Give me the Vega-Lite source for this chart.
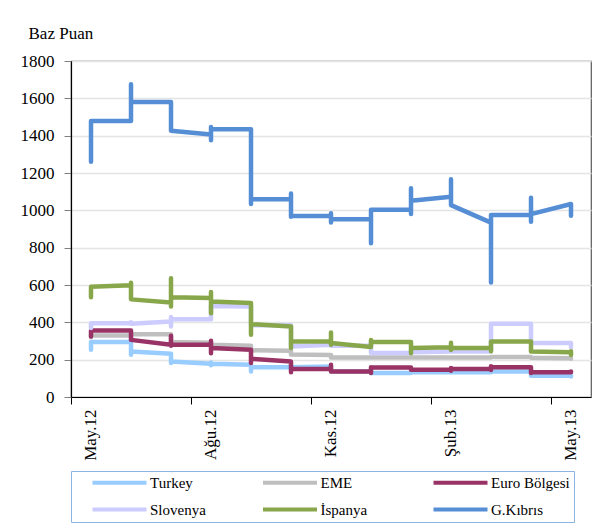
{
"$schema": "https://vega.github.io/schema/vega-lite/v6.json",
"width": 520, "height": 336,
"autosize": {"type": "none"},
"padding": {"left": 71, "top": 61, "right": 9, "bottom": 133},
"config": {
  "view": {"stroke": "#595959", "strokeWidth": 1.2},
  "font": "Liberation Serif"
},
"data": {"values": [
{"s":"Turkey","m":"May.12","i":1,"v":253},{"s":"Turkey","m":"May.12","i":2,"v":289},{"s":"Turkey","m":"May.12","i":3,"v":294},
{"s":"Turkey","m":"Haz.12","i":4,"v":294},{"s":"Turkey","m":"Haz.12","i":5,"v":226},{"s":"Turkey","m":"Haz.12","i":6,"v":244},
{"s":"Turkey","m":"Tem.12","i":7,"v":232},{"s":"Turkey","m":"Tem.12","i":8,"v":182},{"s":"Turkey","m":"Tem.12","i":9,"v":190},
{"s":"Turkey","m":"Ağu.12","i":10,"v":178},{"s":"Turkey","m":"Ağu.12","i":11,"v":185},{"s":"Turkey","m":"Ağu.12","i":12,"v":170},{"s":"Turkey","m":"Ağu.12","i":13,"v":178},
{"s":"Turkey","m":"Eyl.12","i":14,"v":173},{"s":"Turkey","m":"Eyl.12","i":15,"v":137},{"s":"Turkey","m":"Eyl.12","i":16,"v":160},
{"s":"Turkey","m":"Eki.12","i":17,"v":160},{"s":"Turkey","m":"Eki.12","i":18,"v":150},{"s":"Turkey","m":"Eki.12","i":19,"v":160},
{"s":"Turkey","m":"Kas.12","i":20,"v":164},{"s":"Turkey","m":"Kas.12","i":21,"v":137},
{"s":"Turkey","m":"Ara.12","i":22,"v":137},{"s":"Turkey","m":"Ara.12","i":23,"v":128},
{"s":"Turkey","m":"Oca.13","i":24,"v":128},{"s":"Turkey","m":"Oca.13","i":25,"v":132},
{"s":"Turkey","m":"Şub.13","i":26,"v":132},
{"s":"Turkey","m":"Mar.13","i":27,"v":132},{"s":"Turkey","m":"Mar.13","i":28,"v":137},
{"s":"Turkey","m":"Nis.13","i":29,"v":137},{"s":"Turkey","m":"Nis.13","i":30,"v":114},
{"s":"Turkey","m":"May.13","i":31,"v":114},{"s":"Turkey","m":"May.13","i":32,"v":110},

{"s":"EME","m":"May.12","i":1,"v":320},{"s":"EME","m":"May.12","i":2,"v":330},
{"s":"EME","m":"Haz.12","i":3,"v":330},{"s":"EME","m":"Haz.12","i":4,"v":336},
{"s":"EME","m":"Tem.12","i":5,"v":336},{"s":"EME","m":"Tem.12","i":6,"v":295},
{"s":"EME","m":"Ağu.12","i":7,"v":290},{"s":"EME","m":"Ağu.12","i":8,"v":280},
{"s":"EME","m":"Eyl.12","i":9,"v":275},{"s":"EME","m":"Eyl.12","i":10,"v":250},
{"s":"EME","m":"Eki.12","i":11,"v":248},{"s":"EME","m":"Eki.12","i":12,"v":228},
{"s":"EME","m":"Kas.12","i":13,"v":225},{"s":"EME","m":"Kas.12","i":14,"v":212},
{"s":"EME","m":"Ara.12","i":15,"v":212},
{"s":"EME","m":"Oca.13","i":16,"v":212},
{"s":"EME","m":"Şub.13","i":17,"v":212},
{"s":"EME","m":"Mar.13","i":18,"v":212},{"s":"EME","m":"Mar.13","i":19,"v":214},
{"s":"EME","m":"Nis.13","i":20,"v":214},{"s":"EME","m":"Nis.13","i":21,"v":210},
{"s":"EME","m":"May.13","i":22,"v":208},{"s":"EME","m":"May.13","i":23,"v":205},

{"s":"Euro Bölgesi","m":"May.12","i":1,"v":324},{"s":"Euro Bölgesi","m":"May.12","i":2,"v":356},
{"s":"Euro Bölgesi","m":"Haz.12","i":3,"v":356},{"s":"Euro Bölgesi","m":"Haz.12","i":4,"v":306},
{"s":"Euro Bölgesi","m":"Tem.12","i":5,"v":280},{"s":"Euro Bölgesi","m":"Tem.12","i":6,"v":328},{"s":"Euro Bölgesi","m":"Tem.12","i":7,"v":274},{"s":"Euro Bölgesi","m":"Tem.12","i":8,"v":280},
{"s":"Euro Bölgesi","m":"Ağu.12","i":9,"v":280},{"s":"Euro Bölgesi","m":"Ağu.12","i":10,"v":301},{"s":"Euro Bölgesi","m":"Ağu.12","i":11,"v":235},{"s":"Euro Bölgesi","m":"Ağu.12","i":12,"v":262},
{"s":"Euro Bölgesi","m":"Eyl.12","i":13,"v":253},{"s":"Euro Bölgesi","m":"Eyl.12","i":14,"v":182},{"s":"Euro Bölgesi","m":"Eyl.12","i":15,"v":205},
{"s":"Euro Bölgesi","m":"Eki.12","i":16,"v":190},{"s":"Euro Bölgesi","m":"Eki.12","i":17,"v":132},{"s":"Euro Bölgesi","m":"Eki.12","i":18,"v":150},
{"s":"Euro Bölgesi","m":"Kas.12","i":19,"v":150},{"s":"Euro Bölgesi","m":"Kas.12","i":20,"v":173},{"s":"Euro Bölgesi","m":"Kas.12","i":21,"v":137},
{"s":"Euro Bölgesi","m":"Ara.12","i":22,"v":137},{"s":"Euro Bölgesi","m":"Ara.12","i":23,"v":160},{"s":"Euro Bölgesi","m":"Ara.12","i":24,"v":128},{"s":"Euro Bölgesi","m":"Ara.12","i":25,"v":158},
{"s":"Euro Bölgesi","m":"Oca.13","i":26,"v":158},{"s":"Euro Bölgesi","m":"Oca.13","i":27,"v":146},
{"s":"Euro Bölgesi","m":"Şub.13","i":28,"v":146},{"s":"Euro Bölgesi","m":"Şub.13","i":29,"v":155},{"s":"Euro Bölgesi","m":"Şub.13","i":30,"v":140},{"s":"Euro Bölgesi","m":"Şub.13","i":31,"v":150},
{"s":"Euro Bölgesi","m":"Mar.13","i":32,"v":150},{"s":"Euro Bölgesi","m":"Mar.13","i":33,"v":165},{"s":"Euro Bölgesi","m":"Mar.13","i":34,"v":145},{"s":"Euro Bölgesi","m":"Mar.13","i":35,"v":160},
{"s":"Euro Bölgesi","m":"Nis.13","i":36,"v":160},{"s":"Euro Bölgesi","m":"Nis.13","i":37,"v":128},{"s":"Euro Bölgesi","m":"Nis.13","i":38,"v":132},
{"s":"Euro Bölgesi","m":"May.13","i":39,"v":132},{"s":"Euro Bölgesi","m":"May.13","i":40,"v":137},

{"s":"Slovenya","m":"May.12","i":1,"v":370},{"s":"Slovenya","m":"May.12","i":2,"v":395},
{"s":"Slovenya","m":"Haz.12","i":3,"v":396},{"s":"Slovenya","m":"Haz.12","i":4,"v":400},{"s":"Slovenya","m":"Haz.12","i":5,"v":392},
{"s":"Slovenya","m":"Tem.12","i":6,"v":404},{"s":"Slovenya","m":"Tem.12","i":7,"v":378},{"s":"Slovenya","m":"Tem.12","i":8,"v":428},{"s":"Slovenya","m":"Tem.12","i":9,"v":417},
{"s":"Slovenya","m":"Ağu.12","i":10,"v":417},{"s":"Slovenya","m":"Ağu.12","i":11,"v":490},{"s":"Slovenya","m":"Ağu.12","i":12,"v":488},
{"s":"Slovenya","m":"Eyl.12","i":13,"v":485},{"s":"Slovenya","m":"Eyl.12","i":14,"v":390},{"s":"Slovenya","m":"Eyl.12","i":15,"v":385},
{"s":"Slovenya","m":"Eki.12","i":16,"v":385},{"s":"Slovenya","m":"Eki.12","i":17,"v":270},
{"s":"Slovenya","m":"Kas.12","i":18,"v":280},{"s":"Slovenya","m":"Kas.12","i":19,"v":275},
{"s":"Slovenya","m":"Ara.12","i":20,"v":275},{"s":"Slovenya","m":"Ara.12","i":21,"v":297},{"s":"Slovenya","m":"Ara.12","i":22,"v":236},
{"s":"Slovenya","m":"Oca.13","i":23,"v":236},{"s":"Slovenya","m":"Oca.13","i":24,"v":240},
{"s":"Slovenya","m":"Şub.13","i":25,"v":244},
{"s":"Slovenya","m":"Mar.13","i":26,"v":244},{"s":"Slovenya","m":"Mar.13","i":27,"v":392},
{"s":"Slovenya","m":"Nis.13","i":28,"v":392},{"s":"Slovenya","m":"Nis.13","i":29,"v":289},
{"s":"Slovenya","m":"May.13","i":30,"v":289},{"s":"Slovenya","m":"May.13","i":31,"v":267},

{"s":"İspanya","m":"May.12","i":1,"v":535},{"s":"İspanya","m":"May.12","i":2,"v":590},
{"s":"İspanya","m":"Haz.12","i":3,"v":598},{"s":"İspanya","m":"Haz.12","i":4,"v":612},{"s":"İspanya","m":"Haz.12","i":5,"v":523},
{"s":"İspanya","m":"Tem.12","i":6,"v":506},{"s":"İspanya","m":"Tem.12","i":7,"v":485},{"s":"İspanya","m":"Tem.12","i":8,"v":636},{"s":"İspanya","m":"Tem.12","i":9,"v":535},
{"s":"İspanya","m":"Ağu.12","i":10,"v":530},{"s":"İspanya","m":"Ağu.12","i":11,"v":562},{"s":"İspanya","m":"Ağu.12","i":12,"v":449},{"s":"İspanya","m":"Ağu.12","i":13,"v":511},
{"s":"İspanya","m":"Eyl.12","i":14,"v":503},{"s":"İspanya","m":"Eyl.12","i":15,"v":333},{"s":"İspanya","m":"Eyl.12","i":16,"v":390},
{"s":"İspanya","m":"Eki.12","i":17,"v":378},{"s":"İspanya","m":"Eki.12","i":18,"v":262},{"s":"İspanya","m":"Eki.12","i":19,"v":297},
{"s":"İspanya","m":"Kas.12","i":20,"v":297},{"s":"İspanya","m":"Kas.12","i":21,"v":346},{"s":"İspanya","m":"Kas.12","i":22,"v":280},{"s":"İspanya","m":"Kas.12","i":23,"v":289},
{"s":"İspanya","m":"Ara.12","i":24,"v":268},{"s":"İspanya","m":"Ara.12","i":25,"v":306},{"s":"İspanya","m":"Ara.12","i":26,"v":294},
{"s":"İspanya","m":"Oca.13","i":27,"v":294},{"s":"İspanya","m":"Oca.13","i":28,"v":235},{"s":"İspanya","m":"Oca.13","i":29,"v":262},
{"s":"İspanya","m":"Şub.13","i":30,"v":267},{"s":"İspanya","m":"Şub.13","i":31,"v":290},{"s":"İspanya","m":"Şub.13","i":32,"v":252},{"s":"İspanya","m":"Şub.13","i":33,"v":262},
{"s":"İspanya","m":"Mar.13","i":34,"v":262},{"s":"İspanya","m":"Mar.13","i":35,"v":245},{"s":"İspanya","m":"Mar.13","i":36,"v":297},
{"s":"İspanya","m":"Nis.13","i":37,"v":297},{"s":"İspanya","m":"Nis.13","i":38,"v":244},
{"s":"İspanya","m":"May.13","i":39,"v":240},{"s":"İspanya","m":"May.13","i":40,"v":245},{"s":"İspanya","m":"May.13","i":41,"v":225},

{"s":"G.Kıbrıs","m":"May.12","i":1,"v":1260},{"s":"G.Kıbrıs","m":"May.12","i":2,"v":1479},
{"s":"G.Kıbrıs","m":"Haz.12","i":3,"v":1479},{"s":"G.Kıbrıs","m":"Haz.12","i":4,"v":1675},{"s":"G.Kıbrıs","m":"Haz.12","i":5,"v":1580},
{"s":"G.Kıbrıs","m":"Tem.12","i":6,"v":1580},{"s":"G.Kıbrıs","m":"Tem.12","i":7,"v":1426},
{"s":"G.Kıbrıs","m":"Ağu.12","i":8,"v":1406},{"s":"G.Kıbrıs","m":"Ağu.12","i":9,"v":1376},{"s":"G.Kıbrıs","m":"Ağu.12","i":10,"v":1447},{"s":"G.Kıbrıs","m":"Ağu.12","i":11,"v":1435},
{"s":"G.Kıbrıs","m":"Eyl.12","i":12,"v":1435},{"s":"G.Kıbrıs","m":"Eyl.12","i":13,"v":1034},{"s":"G.Kıbrıs","m":"Eyl.12","i":14,"v":1060},
{"s":"G.Kıbrıs","m":"Eki.12","i":15,"v":1060},{"s":"G.Kıbrıs","m":"Eki.12","i":16,"v":1090},{"s":"G.Kıbrıs","m":"Eki.12","i":17,"v":966},{"s":"G.Kıbrıs","m":"Eki.12","i":18,"v":970},
{"s":"G.Kıbrıs","m":"Kas.12","i":19,"v":971},{"s":"G.Kıbrıs","m":"Kas.12","i":20,"v":984},{"s":"G.Kıbrıs","m":"Kas.12","i":21,"v":935},{"s":"G.Kıbrıs","m":"Kas.12","i":22,"v":952},
{"s":"G.Kıbrıs","m":"Ara.12","i":23,"v":952},{"s":"G.Kıbrıs","m":"Ara.12","i":24,"v":824},{"s":"G.Kıbrıs","m":"Ara.12","i":25,"v":1003},
{"s":"G.Kıbrıs","m":"Oca.13","i":26,"v":1003},{"s":"G.Kıbrıs","m":"Oca.13","i":27,"v":980},{"s":"G.Kıbrıs","m":"Oca.13","i":28,"v":1118},{"s":"G.Kıbrıs","m":"Oca.13","i":29,"v":1051},
{"s":"G.Kıbrıs","m":"Şub.13","i":30,"v":1073},{"s":"G.Kıbrıs","m":"Şub.13","i":31,"v":1166},{"s":"G.Kıbrıs","m":"Şub.13","i":32,"v":1028},
{"s":"G.Kıbrıs","m":"Mar.13","i":33,"v":934},{"s":"G.Kıbrıs","m":"Mar.13","i":34,"v":613},{"s":"G.Kıbrıs","m":"Mar.13","i":35,"v":975},
{"s":"G.Kıbrıs","m":"Nis.13","i":36,"v":975},{"s":"G.Kıbrıs","m":"Nis.13","i":37,"v":1067},{"s":"G.Kıbrıs","m":"Nis.13","i":38,"v":939},{"s":"G.Kıbrıs","m":"Nis.13","i":39,"v":980},
{"s":"G.Kıbrıs","m":"May.13","i":40,"v":1034},{"s":"G.Kıbrıs","m":"May.13","i":41,"v":971}
]},
"mark": {"type": "line", "strokeWidth": 4.5, "strokeCap": "round", "strokeJoin": "round"},
"encoding": {
  "x": {"field": "m", "type": "ordinal",
    "scale": {"type": "band", "paddingInner": 0, "paddingOuter": 0,
      "domain": ["May.12","Haz.12","Tem.12","Ağu.12","Eyl.12","Eki.12","Kas.12","Ara.12","Oca.13","Şub.13","Mar.13","Nis.13","May.13"]},
    "axis": {"title": null, "values": ["May.12","Ağu.12","Kas.12","Şub.13","May.13"],
      "bandPosition": 0, "grid": false, "labelAngle": -90, "labelAlign": "right", "labelBaseline": "middle",
      "labelFont": "Liberation Serif", "labelFontSize": 17, "labelColor": "#000000",
      "labelPadding": 5, "tickSize": 7, "tickColor": "#000000", "domainColor": "#000000", "domainWidth": 1.2}},
  "y": {"field": "v", "type": "quantitative",
    "scale": {"domain": [0, 1800], "nice": false},
    "axis": {"title": "Baz Puan", "titleAngle": 0, "titleAlign": "left", "titleBaseline": "middle",
      "titleX": -43, "titleY": -28, "titleFont": "Liberation Serif", "titleFontSize": 17, "titleFontWeight": "normal", "titleColor": "#000000",
      "values": [0,200,400,600,800,1000,1200,1400,1600,1800], "format": "d",
      "labelFont": "Liberation Serif", "labelFontSize": 17, "labelColor": "#000000", "labelPadding": 10,
      "tickSize": 7, "tickColor": "#808080", "domainColor": "#000000", "domainWidth": 1.2,
      "grid": true, "gridColor": "#E4E4E4", "gridWidth": 1.5}},
  "color": {"field": "s", "type": "nominal",
    "scale": {"domain": ["Turkey","EME","Euro Bölgesi","Slovenya","İspanya","G.Kıbrıs"],
      "range": ["#99CCFF","#BFBFBF","#993366","#CCCCFF","#88A64A","#558ED5"]},
    "legend": {"title": null, "orient": "none", "legendX": 0, "legendY": 410, "direction": "horizontal", "columns": 3,
      "gridAlign": "all", "columnPadding": 16.5, "rowPadding": 10, "padding": 4, "symbolOffset": 37,
      "symbolType": "M-13.5,0L13.5,0", "symbolSize": 16, "symbolStrokeWidth": 4,
      "labelFont": "Liberation Serif", "labelFontSize": 15, "labelColor": "#000000", "labelOffset": 23, "labelLimit": 200,
      "strokeColor": "#8DB3E2"}},
  "order": {"field": "i", "type": "quantitative"}
}
}
